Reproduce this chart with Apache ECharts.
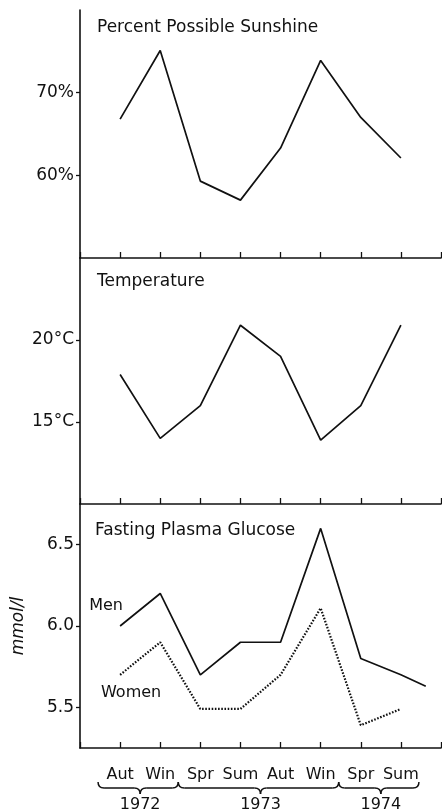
<!DOCTYPE html>
<html>
<head>
<meta charset="utf-8">
<script src="https://cdn.jsdelivr.net/npm/echarts@6/dist/echarts.min.js"></script>
<style>
  html, body { margin: 0; padding: 0; background: #fff; }
  #chart { width: 442px; height: 810px; }
</style>
</head>
<body>
<div id="chart"></div>
<script>
// season slots along the shared x axis (positions 1..8)
const seasons = ['Aut', 'Win', 'Spr', 'Sum', 'Aut', 'Win', 'Spr', 'Sum'];
const yearGroups = [
  { year: '1972', from: 1, to: 2 },
  { year: '1973', from: 3, to: 6 },
  { year: '1974', from: 7, to: 8 }
];

// values
const sunshine = [66.8, 75.1, 59.3, 57.0, 63.3, 73.9, 67.0, 62.1];
const temperature = [17.9, 14.0, 16.0, 20.9, 19.0, 13.9, 16.0, 20.9];
const glucoseMen = [6.0, 6.2, 5.7, 5.9, 5.9, 6.6, 5.8, 5.7];
const glucoseMenTail = [8.62, 5.63]; // men's line runs on past Sum 1974
const glucoseWomen = [5.7, 5.9, 5.49, 5.49, 5.7, 6.11, 5.39, 5.49];

const INK = '#111';
const FONT = 'DejaVu Sans';

const chart = echarts.init(document.getElementById('chart'));

const toPts = arr => arr.map((v, i) => [i + 1, v]);

function xAxisFor(gridIndex, withLabels) {
  return {
    type: 'value', gridIndex: gridIndex, min: 0, max: 9, interval: 1,
    axisLine: { show: true, lineStyle: { color: INK, width: 1.6 } },
    axisTick: { show: true, inside: true, length: 6, lineStyle: { color: INK, width: 1.3 } },
    splitLine: { show: false },
    axisLabel: withLabels ? {
      show: true, margin: 19, color: INK, fontFamily: FONT, fontSize: 16,
      customValues: seasons.map((s, i) => i + 1),
      formatter: v => seasons[v - 1] || ''
    } : { show: false }
  };
}

function yAxisFor(gridIndex, min, max, interval, shown, fmt, extra) {
  return Object.assign({
    type: 'value', gridIndex: gridIndex, min: min, max: max, interval: interval,
    axisLine: { show: true, lineStyle: { color: INK, width: 1.6 } },
    axisTick: { show: true, length: 4, customValues: shown, lineStyle: { color: INK, width: 1.3 } },
    splitLine: { show: false },
    axisLabel: { color: INK, fontFamily: FONT, fontSize: 17, margin: 6, customValues: shown, formatter: fmt }
  }, extra || {});
}

const titleStyle = { color: INK, fontFamily: FONT, fontSize: 17, fontWeight: 'normal' };

chart.setOption({
  animation: false,
  title: [
    { text: 'Percent Possible Sunshine', left: 97, top: 19, padding: 0, textStyle: titleStyle },
    { text: 'Temperature', left: 97, top: 273, padding: 0, textStyle: titleStyle },
    { text: 'Fasting Plasma Glucose', left: 95, top: 522, padding: 0, textStyle: titleStyle }
  ],
  grid: [
    { left: 80, right: 1, top: 10, height: 248 },
    { left: 80, right: 1, top: 258, height: 246 },
    { left: 80, right: 1, top: 504, height: 244 }
  ],
  xAxis: [xAxisFor(0, false), xAxisFor(1, false), xAxisFor(2, true)],
  yAxis: [
    yAxisFor(0, 50, 80, 10, [60, 70], v => v + '%'),
    yAxisFor(1, 10, 25, 5, [15, 20], v => v + '°C'),
    yAxisFor(2, 5.25, 6.75, 0.25, [5.5, 6.0, 6.5], v => v.toFixed(1), {
      name: 'mmol/l', nameLocation: 'middle', nameRotate: 90, nameGap: 53,
      nameTextStyle: { color: INK, fontFamily: FONT, fontSize: 17, fontStyle: 'italic' }
    })
  ],
  series: [
    {
      type: 'line', xAxisIndex: 0, yAxisIndex: 0, data: toPts(sunshine),
      symbol: 'none', lineStyle: { color: INK, width: 1.7 }
    },
    {
      type: 'line', xAxisIndex: 1, yAxisIndex: 1, data: toPts(temperature),
      symbol: 'none', lineStyle: { color: INK, width: 1.7 }
    },
    {
      name: 'Men', type: 'line', xAxisIndex: 2, yAxisIndex: 2,
      data: toPts(glucoseMen).concat([glucoseMenTail]),
      symbol: 'none', lineStyle: { color: INK, width: 1.7 }
    },
    {
      name: 'Women', type: 'line', xAxisIndex: 2, yAxisIndex: 2, data: toPts(glucoseWomen),
      symbol: 'none', lineStyle: { color: INK, width: 2.2, type: [1.6, 1.6] }
    }
  ]
});

const textFont = '16px "' + FONT + '"';
const graphics = [];

// series names next to the first points of the glucose lines
const menStart = chart.convertToPixel({ gridIndex: 2 }, [1, glucoseMen[0]]);
const womenStart = chart.convertToPixel({ gridIndex: 2 }, [1, glucoseWomen[0]]);
graphics.push({
  type: 'text', x: menStart[0] - 14, y: menStart[1] - 20,
  style: { text: 'Men', fill: INK, font: textFont, align: 'center', verticalAlign: 'middle' }
});
graphics.push({
  type: 'text', x: womenStart[0] + 11, y: womenStart[1] + 18,
  style: { text: 'Women', fill: INK, font: textFont, align: 'center', verticalAlign: 'middle' }
});

// year braces under the season labels, placed through the bottom grid's scales
const stroke = { stroke: INK, fill: null, lineWidth: 1.5 };
yearGroups.forEach(g => {
  const base = chart.convertToPixel({ gridIndex: 2 }, [g.from - 0.55, 5.25]);
  const end = chart.convertToPixel({ gridIndex: 2 }, [g.to + 0.45, 5.25]);
  const mid = chart.convertToPixel({ gridIndex: 2 }, [(g.from + g.to) / 2, 5.25]);
  const x1 = base[0], x2 = end[0], xm = mid[0];
  const y0 = base[1] + 34, y1 = y0 + 6, y2 = y0 + 12;
  graphics.push(
    { type: 'bezierCurve', shape: { x1: x1, y1: y0, cpx1: x1, cpy1: y1, x2: x1 + 6, y2: y1 }, style: stroke },
    { type: 'line', shape: { x1: x1 + 6, y1: y1, x2: xm - 6, y2: y1 }, style: stroke },
    { type: 'bezierCurve', shape: { x1: xm - 6, y1: y1, cpx1: xm, cpy1: y1, x2: xm, y2: y2 }, style: stroke },
    { type: 'bezierCurve', shape: { x1: xm, y1: y2, cpx1: xm, cpy1: y1, x2: xm + 6, y2: y1 }, style: stroke },
    { type: 'line', shape: { x1: xm + 6, y1: y1, x2: x2 - 6, y2: y1 }, style: stroke },
    { type: 'bezierCurve', shape: { x1: x2 - 6, y1: y1, cpx1: x2, cpy1: y1, x2: x2, y2: y0 }, style: stroke },
    {
      type: 'text', x: xm, y: base[1] + 57,
      style: { text: g.year, fill: INK, font: textFont, align: 'center', verticalAlign: 'middle' }
    }
  );
});
chart.setOption({ graphic: graphics });
</script>
</body>
</html>
